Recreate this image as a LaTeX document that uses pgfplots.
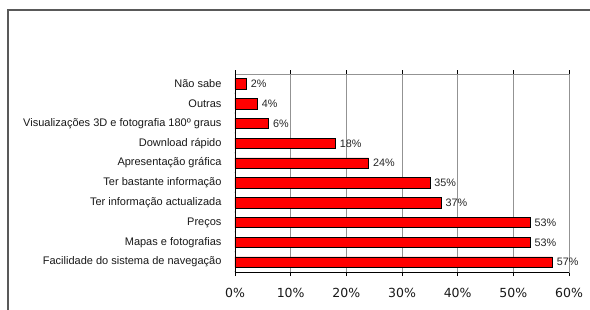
\documentclass[border=0pt]{standalone}
\usepackage{pgfplots}
\pgfplotsset{compat=1.18}
\usepackage{fontspec}
\setmainfont{Liberation Sans}
\newfontfamily\tickfont{DejaVu Sans}
\begin{document}
\begin{tikzpicture}[x=1pt,y=1pt]
\clip (0,0) rectangle (590,309);
\fill[white] (0,0) rectangle (590,309);
\draw[line width=1.6pt, black!65] (8,-20) rectangle (620,299);
\begin{axis}[at={(235pt,37pt)}, anchor=south west,
  width=334pt, height=198pt, scale only axis,
  xbar, bar width=10.5pt,
  xmin=0, xmax=60, ymin=-0.5, ymax=9.5,
  xtick={0,10,...,60},
  xticklabels={0\%,10\%,20\%,30\%,40\%,50\%,60\%},
  ytick={0,...,9},
  yticklabels={Facilidade do sistema de navegação,Mapas e fotografias,Preços,Ter informação actualizada,Ter bastante informação,Apresentação gráfica,Download rápido,Visualizações 3D e fotografia 180º graus,Outras,Não sabe},
  ytick style={draw=none},
  xtick style={black, thin},
  tick align=outside, major tick length=4pt,
  xmajorgrids, grid style={gray!85, line width=0.6pt},
  axis line style={gray!85, line width=0.6pt},
  yticklabel style={font=\fontsize{11}{11}\selectfont, xshift=-6pt, text=black!90},
  xticklabel style={font=\tickfont\fontsize{12.5}{13}\selectfont, yshift=-8.5pt, text=black!90},
  point meta=x,
  nodes near coords={\pgfmathprintnumber[assume math mode=true]{\pgfplotspointmeta}\%},
  nodes near coords style={font=\fontsize{10.8}{11}\selectfont, text=black!85, xshift=1pt},
]
\addplot[fill=red, draw=black, line width=0.6pt] coordinates {
(57,0) (53,1) (53,2) (37,3) (35,4) (24,5) (18,6) (6,7) (4,8) (2,9)};
\draw[black, line width=0.8pt] (axis cs:0,-0.5) -- (axis cs:0,9.5);
\draw[black, line width=0.8pt] (axis cs:0,-0.5) -- (axis cs:60,-0.5);
\pgfplotsinvokeforeach{-0.5,0.5,...,9.5}{\draw[black, thin] (axis cs:0,#1) -- ++(-4pt,0);}
\end{axis}
\end{tikzpicture}
\end{document}
